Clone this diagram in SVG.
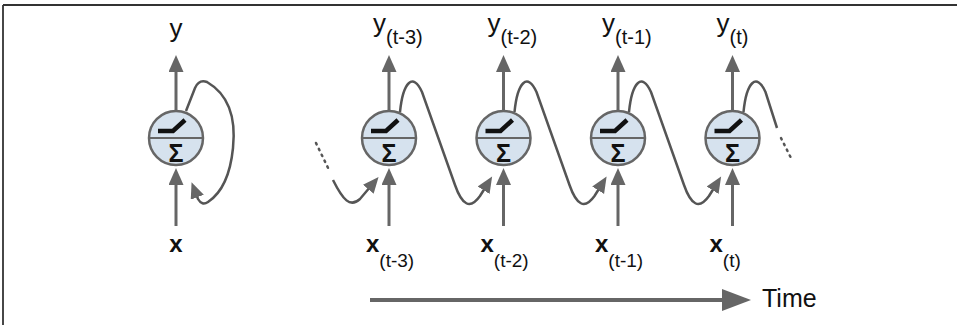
<svg xmlns="http://www.w3.org/2000/svg" width="957" height="325" viewBox="0 0 957 325">
<style>
.lbl{font-family:"Liberation Sans",Arial,sans-serif;fill:#111}
.y{font-size:26px}
.ys{font-size:20px}
.x{font-size:24px;font-weight:bold}
.xs{font-size:19px;font-weight:normal}
.ax{stroke:#666;stroke-width:3;fill:none}
.rec{stroke:#555;stroke-width:2.5;fill:none}
.circ{fill:#d6e2ee;stroke:#666;stroke-width:2.5}
.mid{stroke:#666;stroke-width:2}
.ramp{stroke:#111;stroke-width:4.5;fill:none;stroke-linejoin:miter}
.sig{font-family:"Liberation Sans",Arial,sans-serif;font-size:25px;font-weight:bold;fill:#111;text-anchor:middle}
.dots{stroke:#555;stroke-width:2.5;stroke-dasharray:1.5 5;stroke-linecap:round;fill:none}
</style>
<defs>
<marker id="ah" markerUnits="userSpaceOnUse" markerWidth="18" markerHeight="16" refX="12" refY="7.5" orient="auto">
<path d="M0,0 L17,7.5 L0,15 z" fill="#666"/>
</marker>
<marker id="ah2" markerUnits="userSpaceOnUse" markerWidth="18" markerHeight="16" refX="12" refY="7" orient="auto">
<path d="M0,0 L16,7 L0,14 z" fill="#666"/>
</marker>
<g id="neuron">
<circle cx="0" cy="0" r="27" class="circ"/>
<line x1="-27" y1="0" x2="27" y2="0" class="mid"/>
<path d="M-18,-7 L-3,-7 L9,-18" class="ramp"/>
<text x="0" y="24" class="sig">Σ</text>
</g>
</defs>

<g id="frame" stroke="#333" stroke-width="1.8" fill="none">
<line x1="3" y1="5" x2="957" y2="5"/>
<line x1="3" y1="5" x2="3" y2="325"/>
</g>

<g id="connectors">
<line x1="176" y1="110" x2="176" y2="60" class="ax" marker-end="url(#ah)"/>
<line x1="176" y1="226" x2="176" y2="173" class="ax" marker-end="url(#ah)"/>
<line x1="389" y1="110" x2="389" y2="60" class="ax" marker-end="url(#ah)"/>
<line x1="389" y1="226" x2="389" y2="173" class="ax" marker-end="url(#ah)"/>
<line x1="503.5" y1="110" x2="503.5" y2="60" class="ax" marker-end="url(#ah)"/>
<line x1="503.5" y1="226" x2="503.5" y2="173" class="ax" marker-end="url(#ah)"/>
<line x1="618" y1="110" x2="618" y2="60" class="ax" marker-end="url(#ah)"/>
<line x1="618" y1="226" x2="618" y2="173" class="ax" marker-end="url(#ah)"/>
<line x1="732.5" y1="110" x2="732.5" y2="60" class="ax" marker-end="url(#ah)"/>
<line x1="732.5" y1="226" x2="732.5" y2="173" class="ax" marker-end="url(#ah)"/>

<path d="M186,111 L195,88 Q199,79 207,82 Q238,100 233,148 Q229,188 208,202 Q202,206 198,199 L193,186" class="rec" marker-end="url(#ah2)"/>

<path d="M316,143 L330,172" class="dots"/>
<path d="M333,180 C343,200 350,208 360,199 L376,180" class="rec" marker-end="url(#ah2)"/>
<path d="M400,112 C403,82 413,72 422,92 L455,185 C462,205 470,210 480,196 L490,180" class="rec" marker-end="url(#ah2)"/>
<path d="M514.5,112 C517.5,82 527.5,72 536.5,92 L569.5,185 C576.5,205 584.5,210 594.5,196 L604.5,180" class="rec" marker-end="url(#ah2)"/>
<path d="M629,112 C632,82 642,72 651,92 L684,185 C691,205 699,210 709,196 L719,180" class="rec" marker-end="url(#ah2)"/>
<path d="M743.5,112 C746.5,82 756.5,72 765.5,92 L777,128" class="rec"/>
<path d="M781,138 L792,160" class="dots"/>

<line x1="370" y1="300" x2="735" y2="300" stroke="#666" stroke-width="4"/>
<path d="M722,289 L751,300 L722,311 z" fill="#666"/>
</g>

<g id="n0"><use href="#neuron" x="176" y="138"/></g>
<g id="n1"><use href="#neuron" x="389" y="138"/></g>
<g id="n2"><use href="#neuron" x="503.5" y="138"/></g>
<g id="n3"><use href="#neuron" x="618" y="138"/></g>
<g id="n4"><use href="#neuron" x="732.5" y="138"/></g>

<g id="labels" class="lbl">
<text x="176" y="37" class="y" text-anchor="middle">y</text>
<text x="176" y="252" class="x" text-anchor="middle">x</text>

<text x="373" y="32" class="y">y<tspan class="ys" dy="12">(t-3)</tspan></text>
<text x="487.5" y="32" class="y">y<tspan class="ys" dy="12">(t-2)</tspan></text>
<text x="602" y="32" class="y">y<tspan class="ys" dy="12">(t-1)</tspan></text>
<text x="716.5" y="32" class="y">y<tspan class="ys" dy="12">(t)</tspan></text>

<text x="366" y="252" class="x">x<tspan class="xs" dy="15">(t-3)</tspan></text>
<text x="480.5" y="252" class="x">x<tspan class="xs" dy="15">(t-2)</tspan></text>
<text x="595" y="252" class="x">x<tspan class="xs" dy="15">(t-1)</tspan></text>
<text x="709.5" y="252" class="x">x<tspan class="xs" dy="15">(t)</tspan></text>

<text x="762" y="307" style="font-size:25px">Time</text>
</g>
</svg>
